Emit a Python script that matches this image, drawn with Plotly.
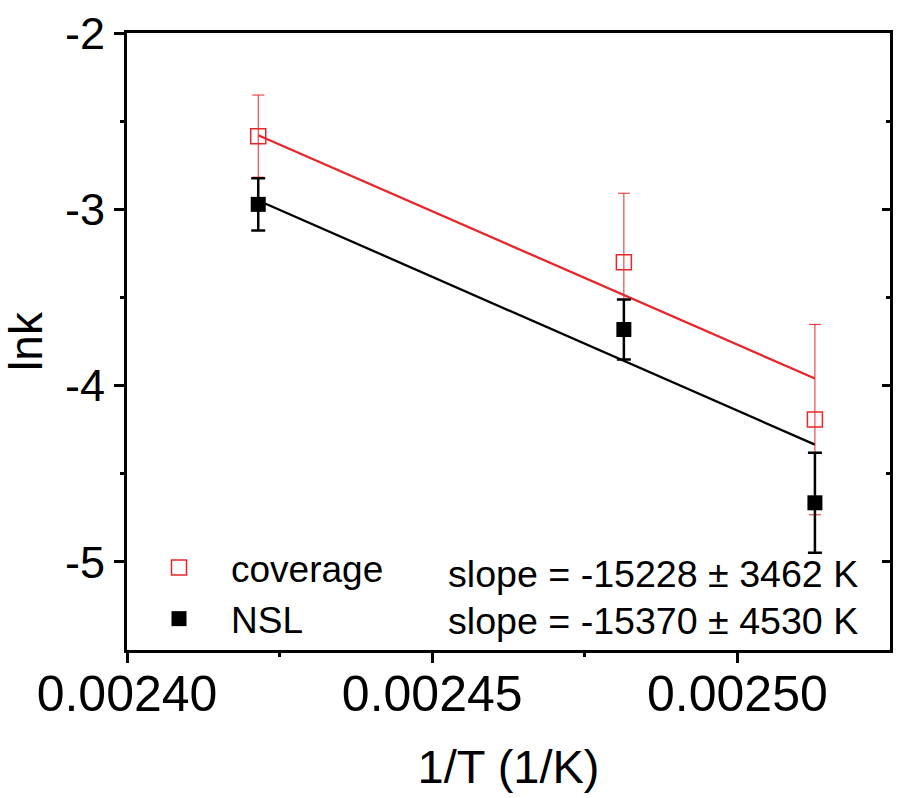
import plotly.graph_objects as go

# data
inv_T = [0.0024215, 0.0024814, 0.0025127]
cov_lnk = [-2.585, -3.301, -4.193]
cov_err = [0.233, 0.392, 0.540]
nsl_lnk = [-2.972, -3.682, -4.665]
nsl_err = [0.148, 0.170, 0.284]
fit_x = [inv_T[0], inv_T[-1]]
cov_fit = [-2.58, -3.96]
nsl_fit = [-2.95, -4.335]
series_names = ["coverage", "NSL"]
slope_texts = ["slope = -15228 ± 3462 K", "slope = -15370 ± 4530 K"]
x_ticks = [0.0024, 0.00245, 0.0025]
x_ticklabels = ["0.00240", "0.00245", "0.00250"]
y_ticks = [-5, -4, -3, -2]
y_ticklabels = ["-5", "-4", "-3", "-2"]

RED = "#e8262a"
FONT = "Arial, Liberation Sans, sans-serif"

fig = go.Figure()
fig.add_trace(go.Scatter(x=fit_x, y=cov_fit, mode="lines", line=dict(color=RED, width=2.3),
                         showlegend=False, hoverinfo="skip"))
fig.add_trace(go.Scatter(x=fit_x, y=nsl_fit, mode="lines", line=dict(color="black", width=2.3),
                         showlegend=False, hoverinfo="skip"))
fig.add_trace(go.Scatter(x=inv_T, y=cov_lnk, mode="markers", name=series_names[0],
                         marker=dict(symbol="square-open", size=15, color=RED, line=dict(width=1.5, color=RED)),
                         error_y=dict(type="data", array=cov_err, color=RED, thickness=1, width=6)))
fig.add_trace(go.Scatter(x=inv_T, y=nsl_lnk, mode="markers", name=series_names[1],
                         marker=dict(symbol="square", size=15, color="black"),
                         error_y=dict(type="data", array=nsl_err, color="black", thickness=2.5, width=7)))
# invisible trace so the right-hand (inward tick) axis is drawn
fig.add_trace(go.Scatter(x=inv_T, y=nsl_lnk, yaxis="y2", mode="markers", marker=dict(opacity=0),
                         showlegend=False, hoverinfo="skip"))

for i, t in enumerate(slope_texts):
    fig.add_annotation(x=0.0024523, y=[-5.07, -5.335][i], xref="x", yref="y", text=t,
                       showarrow=False, xanchor="left", yanchor="middle",
                       font=dict(size=37.6, color="black", family=FONT))

fig.update_layout(
    width=899, height=798,
    margin=dict(l=127, r=6, t=33, b=148),
    paper_bgcolor="white", plot_bgcolor="white",
    font=dict(family=FONT, color="black"),
    showlegend=True,
    legend=dict(x=0.0, y=0.0, xanchor="left", yanchor="bottom", bgcolor="rgba(0,0,0,0)",
                font=dict(size=37, family=FONT), itemsizing="trace", itemwidth=94, tracegroupgap=0),
    xaxis=dict(range=[0.0024, 0.002525], tickvals=x_ticks, ticktext=x_ticklabels,
               ticks="outside", ticklen=10, tickwidth=3, tickcolor="black",
               minor=dict(tickvals=[0.002425, 0.002475], ticks="outside", ticklen=4, tickwidth=3, tickcolor="black"),
               showline=True, linewidth=3, linecolor="black", mirror=True,
               showgrid=False, zeroline=False,
               tickfont=dict(size=50, family=FONT), ticklabelstandoff=-12,
               title=dict(text="1/T (1/K)", font=dict(size=47, family=FONT), standoff=30)),
    yaxis=dict(range=[-5.5, -2], tickvals=y_ticks, ticktext=y_ticklabels,
               ticks="outside", ticklen=10, tickwidth=3, tickcolor="black",
               minor=dict(tickvals=[-4.5, -3.5, -2.5], ticks="outside", ticklen=4, tickwidth=3, tickcolor="black"),
               showline=True, linewidth=3, linecolor="black", mirror=True,
               showgrid=False, zeroline=False,
               tickfont=dict(size=45, family=FONT),
               title=dict(text="lnk", font=dict(size=46, family=FONT), standoff=9)),
    yaxis2=dict(range=[-5.5, -2], overlaying="y", side="right", tickvals=[-5, -4, -3],
                ticks="inside", ticklen=8, tickwidth=3, tickcolor="black", showticklabels=False,
                minor=dict(tickvals=[-4.5, -3.5, -2.5], ticks="inside", ticklen=4, tickwidth=3, tickcolor="black"),
                showgrid=False, zeroline=False, showline=False),
)
fig.write_html("out.html")
